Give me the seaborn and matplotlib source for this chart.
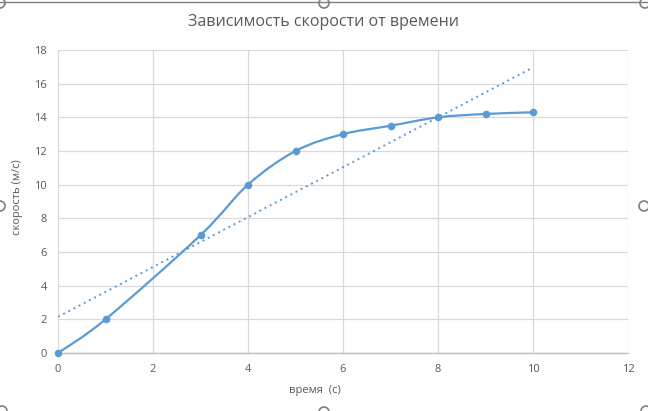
import numpy as np
import pandas as pd
import matplotlib
matplotlib.use("Agg")
import matplotlib.pyplot as plt
from matplotlib.path import Path
from matplotlib.patches import PathPatch, Circle
import seaborn as sns

# data
time_s = [0, 1, 3, 4, 5, 6, 7, 8, 9, 10]
speed_ms = [0, 2, 7, 10, 12, 13, 13.5, 14, 14.2, 14.3]
title = "Зависимость скорости от времени"
xlabel = "время  (с)"
ylabel = "скорость (м/с)"
xticks = [0, 2, 4, 6, 8, 10, 12]
yticks = [0, 2, 4, 6, 8, 10, 12, 14, 16, 18]

df = pd.DataFrame({"t": time_s, "v": speed_ms})

sns.set_theme(style="white")
plt.rcParams["font.family"] = ["Open Sans", "DejaVu Sans"]

blue = "#5B9BD5"
txt = "#595959"
grid = "#D9D9D9"

fig = plt.figure(figsize=(6.48, 4.11), dpi=100)
ax = fig.add_axes([58/648, 1-353/411, 570/648, 303/411])

# smoothed line (Excel-style bezier through the points)
x = np.asarray(time_s, float)
y = np.asarray(speed_ms, float)
verts = [(x[0], y[0])]
codes = [Path.MOVETO]
n = len(x)
for i in range(n - 1):
    p0 = np.array([x[max(i-1, 0)], y[max(i-1, 0)]])
    p1 = np.array([x[i], y[i]])
    p2 = np.array([x[i+1], y[i+1]])
    p3 = np.array([x[min(i+2, n-1)], y[min(i+2, n-1)]])
    c1 = p1 + (p2 - p0) / 6.0
    c2 = p2 - (p3 - p1) / 6.0
    verts += [tuple(c1), tuple(c2), tuple(p2)]
    codes += [Path.CURVE4] * 3
ax.add_patch(PathPatch(Path(verts, codes), fill=False, edgecolor=blue,
                       lw=1.6, zorder=3, capstyle="round", joinstyle="round",
                       clip_on=False))

# linear trendline
sns.regplot(data=df, x="t", y="v", scatter=False, ci=None, truncate=True,
            ax=ax, line_kws=dict(color=blue, lw=1.4, ls=(0, (1, 2)), zorder=2))

sns.scatterplot(data=df, x="t", y="v", ax=ax, color=blue, s=30,
                edgecolor=blue, linewidth=0, zorder=4, clip_on=False)

ax.set_xlim(0, 12)
ax.set_ylim(0, 18)
ax.set_xticks(xticks)
ax.set_yticks(yticks)
ax.grid(True, color=grid, lw=0.9)
ax.set_axisbelow(True)
for s in ["top", "right", "left"]:
    ax.spines[s].set_visible(False)
ax.spines["bottom"].set_color("#BFBFBF")
ax.spines["bottom"].set_linewidth(1.0)
ax.spines["bottom"].set_zorder(1)
ax.tick_params(axis="both", length=0, labelsize=8, colors=txt)
ax.tick_params(axis="y", pad=8)
ax.tick_params(axis="x", pad=8)

ax.set_xlabel(xlabel, fontsize=8, color=txt)
ax.set_ylabel(ylabel, fontsize=8, color=txt)
ax.xaxis.set_label_coords((315-58)/570, (353-385)/303)
ax.yaxis.set_label_coords((23-58)/570, (353-197)/303)

fig.text(324/648, 1-22/411, title, ha="center", va="center",
         fontsize=11.5, color=txt)

# Excel chart frame & selection handles
fig.add_artist(plt.Line2D([0, 1], [1-2/411, 1-2/411], transform=fig.transFigure,
                          color="#7F7F7F", lw=1.0))
for hx, hy in [(0, 3), (324, 3), (645, 3), (0, 206), (644, 206),
               (2, 411), (324, 412), (646, 411)]:
    fig.add_artist(Circle((hx, 411-hy), 5, transform=None, facecolor="white",
                          edgecolor="#7F7F7F", lw=1.2))

fig.savefig("out.png", dpi=100)
